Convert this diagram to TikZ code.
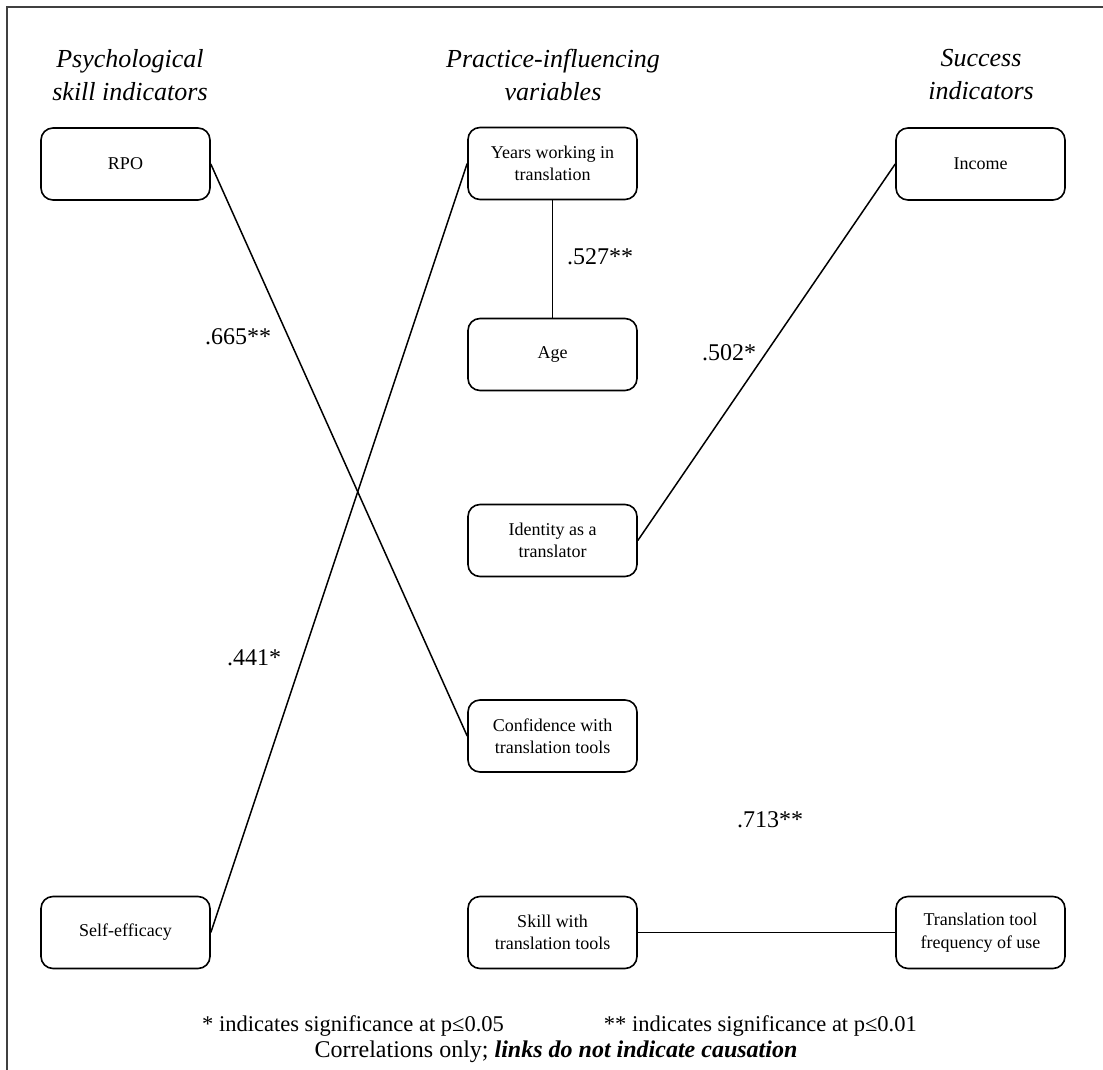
\documentclass[tikz,border=0pt]{standalone}
\usepackage{fontspec}
\setmainfont{Liberation Serif}
\begin{document}
\begin{tikzpicture}[x=1pt,y=-1pt,
  box/.style={draw, line width=1.6pt, rounded corners=12pt, minimum width=169pt,
    minimum height=72pt, inner sep=0pt, align=center,
    font=\fontsize{18}{22.5}\selectfont},
  head/.style={align=center, inner sep=0pt, font=\fontsize{26}{33}\selectfont\itshape},
  coef/.style={inner sep=0pt, font=\fontsize{24}{28}\selectfont},
  note/.style={inner sep=0pt, font=\fontsize{22.5}{27}\selectfont},
  conn/.style={line width=1.5pt}]
\useasboundingbox (0,0) rectangle (1103,1070);
% frame
\draw[line width=2pt, black!75] (1103,7) -- (7,7) -- (7,1070);

% column headings
\node[head] (h1) at (130,75) {Psychological\\skill indicators};
\node[head] (h2) at (553,75) {Practice-influencing\\variables};
\node[head] (h3) at (981,75) {Success\\indicators};

% variables
\node[box] (rpo)    at (125.5,164)   {RPO};
\node[box] (self)   at (125.5,932.5) {Self-efficacy};
\node[box] (years)  at (552.5,163.5) {Years working in\\translation};
\node[box] (age)    at (552.5,354.5) {Age};
\node[box] (ident)  at (552.5,540.5) {Identity as a\\translator};
\node[box] (conf)   at (552.5,736)   {Confidence with\\translation tools};
\node[box] (skill)  at (552.5,932.5) {Skill with\\translation tools};
\node[box] (income) at (980.5,164)   {Income};
\node[box] (freq)   at (980.5,932.5) {Translation tool\\frequency of use};

% correlations
\draw[conn] (rpo.east) -- (conf.west);
\draw[conn] (self.east) -- (years.west);
\draw[conn] (years.south) -- (age.north);
\draw[conn] (ident.east) -- (income.west);
\draw[conn] (skill.east) -- (freq.west);

\node[coef] (c1) at (600,257) {.527**};
\node[coef] (c2) at (238,337) {.665**};
\node[coef] (c3) at (254,658) {.441*};
\node[coef] (c4) at (729,353) {.502*};
\node[coef] (c5) at (770,820) {.713**};

% key
\node[note, anchor=base west] (k1) at (202,1031) {* indicates significance at p≤0.05};
\node[note, anchor=base east] (k2) at (917,1031) {** indicates significance at p≤0.01};
\node[note, anchor=base, font=\fontsize{24}{28}\selectfont] (k3) at (556,1057) {Correlations only; \textbf{\textit{links do not indicate causation}}};
\end{tikzpicture}
\end{document}
